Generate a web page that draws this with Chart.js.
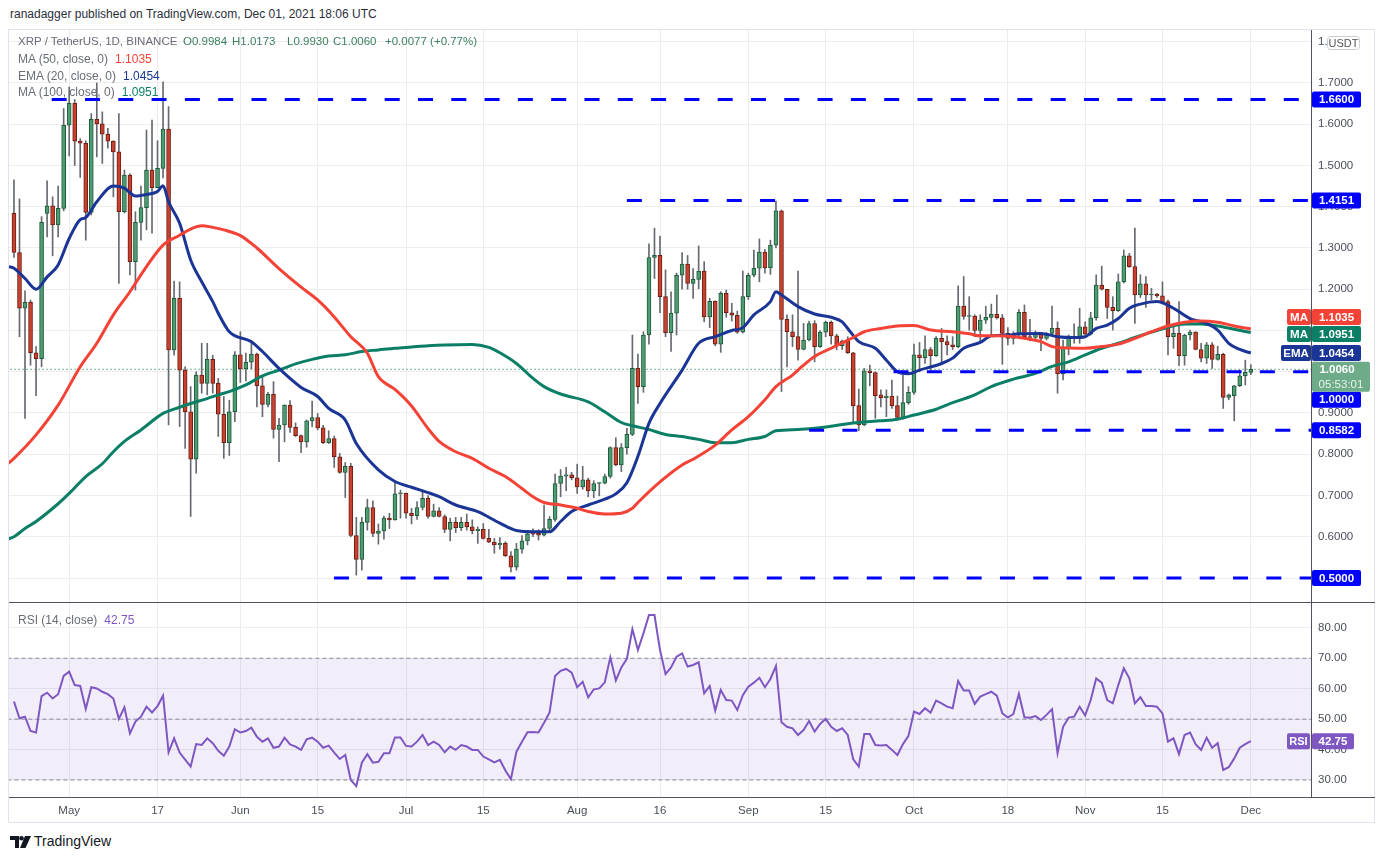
<!DOCTYPE html>
<html><head><meta charset="utf-8">
<script src="https://cdn.jsdelivr.net/npm/chart.js@4.4.1/dist/chart.umd.min.js"></script>
<style>
html,body{margin:0;padding:0;background:#fff;width:1385px;height:860px;overflow:hidden;font-family:"Liberation Sans",Arial,sans-serif;}
.abs{position:absolute;white-space:nowrap;}
.lg{font-size:12px;color:#6a6d78;}
.lg span{margin-left:7px;}
.ohlc{position:absolute;top:35px;font-size:11.5px;color:#3a7f5e;white-space:nowrap;}
</style></head><body>
<div class="abs" style="left:10px;top:7px;font-size:12px;color:#2a2e39">ranadagger published on TradingView.com, Dec 01, 2021 18:06 UTC</div>
<div class="abs" style="left:8px;top:29px;width:1367px;height:794px;border:1px solid #e0e3eb;box-sizing:border-box"></div>
<canvas id="price" class="abs" style="left:9px;top:30px" width="1366" height="572"></canvas>
<canvas id="rsi" class="abs" style="left:9px;top:604px" width="1366" height="219"></canvas>
<div class="abs" style="left:9px;top:602px;width:1366px;height:1px;background:#50535e"></div>
<div class="abs" style="left:9px;top:797px;width:1366px;height:1px;background:#50535e"></div>
<div class="abs" style="left:1311px;top:30px;width:1px;height:767px;background:#50535e"></div>

<div class="abs lg" style="left:18px;top:35px;font-size:11.5px">XRP / TetherUS, 1D, BINANCE</div>
<div class="ohlc" id="oO" style="left:183px"></div>
<div class="ohlc" id="oH" style="left:232px"></div>
<div class="ohlc" id="oL" style="left:287px"></div>
<div class="ohlc" id="oC" style="left:333px"></div>
<div class="ohlc" id="oChg" style="left:385px"></div>
<div class="abs lg" style="left:18px;top:52px">MA (50, close, 0)<span id="lg50" style="color:#f44336"></span></div>
<div class="abs lg" style="left:18px;top:69px">EMA (20, close, 0)<span id="lg20" style="color:#1a3596"></span></div>
<div class="abs lg" style="left:18px;top:85px">MA (100, close, 0)<span id="lg100" style="color:#0b7f66"></span></div>
<div class="abs lg" style="left:18px;top:613px">RSI (14, close)<span id="lgrsi" style="color:#7e57c2"></span></div>

<div class="abs" style="left:10px;top:835px;">
<svg width="22" height="14" viewBox="0 0 22 14"><path d="M0 1h9v12H5V5H0z" fill="#131722"/><circle cx="11.5" cy="3.2" r="2.3" fill="#131722"/><path d="M15 1h6l-5.5 12H10z" fill="#131722"/></svg>
</div>
<div class="abs" style="left:34px;top:833px;font-size:14px;color:#131722">TradingView</div>

<script>
// ---------- DATA ----------
const tickIdx    = [10, 26, 41, 55, 71, 85, 102, 117, 133, 147, 163, 180, 194, 208, 224];
const tickLabels = ['May','17','Jun','15','Jul','15','Aug','16','Sep','15','Oct','18','Nov','15','Dec'];

const open = [
1.384,1.289,1.154,1.168,1.046,1.032,1.384,1.402,1.356,1.396,
1.598,1.651,1.559,1.554,1.386,1.612,1.601,1.576,1.559,1.533,
1.388,1.477,1.267,1.362,1.398,1.489,1.446,1.493,1.588,1.053,
1.178,1.004,0.903,0.788,0.992,0.972,1.030,0.972,0.897,0.828,
0.903,1.041,1.007,1.023,1.043,0.966,0.921,0.945,0.860,0.871,
0.919,0.865,0.845,0.830,0.881,0.889,0.864,0.828,0.838,0.794,
0.756,0.771,0.603,0.545,0.635,0.671,0.608,0.614,0.645,0.641,
0.704,0.705,0.657,0.651,0.671,0.693,0.649,0.663,0.649,0.618,
0.635,0.622,0.635,0.624,0.615,0.618,0.596,0.587,0.580,0.584,
0.554,0.526,0.570,0.590,0.607,0.608,0.604,0.620,0.642,0.729,
0.747,0.750,0.743,0.721,0.738,0.711,0.729,0.730,0.746,0.816,
0.774,0.816,0.848,1.008,0.964,1.089,1.277,1.282,1.182,1.095,
1.142,1.234,1.261,1.214,1.224,1.244,1.133,1.171,1.067,1.190,
1.143,1.137,1.096,1.182,1.234,1.251,1.290,1.252,1.307,1.390,
1.127,1.097,1.085,1.054,1.077,1.117,1.061,1.096,1.120,1.087,
1.063,1.075,1.046,0.918,0.871,1.002,0.998,0.944,0.937,0.941,
0.918,0.889,0.925,0.950,1.041,1.034,1.054,1.039,1.081,1.073,
1.065,1.061,1.159,1.134,1.135,1.100,1.125,1.132,1.139,1.131,
1.093,1.081,1.089,1.144,1.085,1.083,1.091,1.081,1.093,1.105,
0.995,1.057,1.083,1.085,1.109,1.091,1.131,1.210,1.200,1.156,
1.148,1.218,1.281,1.255,1.186,1.213,1.186,1.188,1.184,1.170,
1.085,1.093,1.039,1.089,1.096,1.054,1.033,1.065,1.030,1.042,
0.938,0.942,0.966,0.990,0.9984];
const high = [
1.465,1.419,1.196,1.174,1.061,1.376,1.463,1.424,1.450,1.638,
1.690,1.660,1.565,1.560,1.626,1.700,1.630,1.590,1.560,1.626,
1.489,1.480,1.388,1.450,1.586,1.610,1.560,1.703,1.643,1.220,
1.218,1.012,0.964,1.000,1.069,1.069,1.040,0.984,0.940,0.931,
1.049,1.097,1.045,1.073,1.045,0.988,0.950,0.976,0.887,0.920,
0.930,0.876,0.847,0.883,0.929,0.899,0.870,0.857,0.844,0.802,
0.780,0.778,0.647,0.647,0.691,0.687,0.631,0.650,0.657,0.733,
0.713,0.706,0.669,0.685,0.709,0.700,0.679,0.671,0.653,0.645,
0.647,0.647,0.655,0.641,0.624,0.632,0.618,0.596,0.598,0.588,
0.564,0.584,0.603,0.615,0.619,0.617,0.677,0.649,0.752,0.763,
0.768,0.756,0.776,0.771,0.742,0.736,0.731,0.752,0.818,0.840,
0.826,0.863,1.089,1.043,1.097,1.310,1.348,1.329,1.247,1.194,
1.239,1.289,1.282,1.250,1.305,1.267,1.178,1.172,1.194,1.198,
1.166,1.147,1.244,1.239,1.295,1.322,1.297,1.319,1.414,1.392,
1.138,1.138,1.244,1.117,1.123,1.124,1.100,1.123,1.123,1.091,
1.077,1.085,1.047,0.958,1.008,1.016,1.000,0.956,0.956,0.980,
0.941,0.992,0.964,1.067,1.071,1.087,1.059,1.085,1.105,1.087,
1.085,1.208,1.231,1.182,1.138,1.138,1.159,1.164,1.186,1.139,
1.107,1.097,1.151,1.162,1.127,1.099,1.095,1.095,1.159,1.121,
1.077,1.089,1.116,1.154,1.121,1.144,1.235,1.256,1.200,1.182,
1.237,1.295,1.287,1.348,1.235,1.231,1.202,1.190,1.218,1.174,
1.108,1.170,1.091,1.101,1.097,1.069,1.071,1.071,1.062,1.045,
0.946,0.967,1.004,1.028,1.0173];
const low = [
1.277,1.085,0.887,1.016,0.942,1.012,1.327,1.281,1.327,1.390,
1.523,1.500,1.471,1.319,1.380,1.521,1.505,1.542,1.424,1.214,
1.385,1.235,1.198,1.319,1.344,1.336,1.469,1.470,0.871,1.040,
0.867,0.814,0.649,0.754,0.948,0.944,0.948,0.843,0.790,0.797,
0.879,0.974,0.978,1.007,0.915,0.891,0.915,0.839,0.782,0.830,
0.853,0.843,0.804,0.817,0.867,0.859,0.826,0.826,0.768,0.754,
0.695,0.600,0.507,0.519,0.616,0.600,0.582,0.594,0.620,0.640,
0.645,0.645,0.631,0.642,0.665,0.645,0.648,0.648,0.610,0.590,
0.610,0.615,0.616,0.607,0.584,0.594,0.586,0.560,0.570,0.552,
0.515,0.519,0.560,0.580,0.600,0.592,0.602,0.613,0.637,0.697,
0.712,0.738,0.705,0.715,0.697,0.695,0.699,0.728,0.742,0.772,
0.758,0.800,0.845,0.923,0.950,1.067,1.226,1.143,1.085,1.049,
1.089,1.200,1.200,1.178,1.201,1.121,1.107,1.063,1.047,1.132,
1.123,1.093,1.094,1.175,1.230,1.218,1.239,1.236,1.300,0.952,
1.012,1.061,1.028,1.053,1.075,1.024,1.059,1.085,1.067,1.053,
1.054,1.044,0.875,0.857,0.869,0.966,0.887,0.915,0.891,0.911,
0.887,0.885,0.921,0.945,1.000,1.020,1.004,1.037,1.018,1.041,
1.054,1.058,1.127,1.101,1.085,1.073,1.117,1.089,1.128,1.018,
1.065,1.067,1.085,1.082,1.075,1.077,1.051,1.077,1.089,0.948,
0.980,1.041,1.069,1.069,1.089,1.089,1.125,1.198,1.129,1.101,
1.146,1.215,1.253,1.117,1.180,1.156,1.174,1.180,1.166,1.041,
1.057,1.015,1.016,1.077,1.053,1.024,1.020,1.008,1.028,0.911,
0.932,0.881,0.964,0.968,0.9930];
const close = [
1.289,1.154,1.168,1.046,1.032,1.362,1.402,1.356,1.396,1.598,
1.651,1.559,1.554,1.386,1.612,1.601,1.576,1.559,1.533,1.388,
1.477,1.267,1.362,1.398,1.489,1.446,1.493,1.588,1.053,1.178,
1.004,0.903,0.788,0.992,0.972,1.030,0.972,0.897,0.828,0.903,
1.041,1.007,1.023,1.043,0.966,0.921,0.945,0.860,0.871,0.919,
0.865,0.845,0.830,0.881,0.889,0.864,0.828,0.838,0.794,0.756,
0.771,0.603,0.545,0.635,0.671,0.608,0.614,0.645,0.641,0.704,
0.705,0.657,0.651,0.671,0.693,0.649,0.663,0.649,0.618,0.635,
0.622,0.635,0.624,0.615,0.618,0.596,0.587,0.580,0.584,0.554,
0.526,0.570,0.590,0.607,0.606,0.604,0.620,0.642,0.729,0.747,
0.750,0.743,0.721,0.738,0.711,0.729,0.730,0.746,0.816,0.774,
0.816,0.848,1.008,0.964,1.089,1.277,1.282,1.182,1.095,1.142,
1.234,1.261,1.214,1.224,1.244,1.133,1.171,1.067,1.190,1.143,
1.137,1.096,1.182,1.234,1.251,1.290,1.252,1.307,1.390,1.127,
1.097,1.085,1.054,1.077,1.117,1.061,1.096,1.120,1.087,1.063,
1.074,1.046,0.918,0.871,1.002,0.998,0.942,0.937,0.941,0.918,
0.889,0.925,0.950,1.041,1.034,1.054,1.039,1.081,1.073,1.065,
1.061,1.159,1.134,1.135,1.100,1.125,1.132,1.139,1.131,1.093,
1.081,1.089,1.144,1.085,1.083,1.091,1.081,1.093,1.105,0.995,
1.057,1.083,1.085,1.109,1.091,1.131,1.210,1.200,1.156,1.148,
1.218,1.281,1.255,1.186,1.213,1.186,1.188,1.184,1.170,1.085,
1.093,1.039,1.089,1.096,1.054,1.033,1.065,1.030,1.042,0.938,
0.944,0.966,0.990,0.9984,1.0060];

const rsi = [
55.8,50.3,50.8,46.1,45.6,57.6,58.7,56.8,58.2,64.2,
65.6,61.2,60.9,53.3,60.5,60.1,59.0,58.2,56.8,50.1,
53.9,45.3,49.2,50.8,54.1,52.2,54.3,57.7,39.1,43.7,
39.0,36.7,34.4,41.8,41.5,43.7,42.1,39.6,38.0,41.0,
46.7,45.6,46.1,47.2,44.2,42.6,43.7,40.6,41.0,43.9,
41.7,41.0,39.9,43.4,43.9,42.6,40.6,41.3,39.0,36.9,
38.2,30.0,28.0,35.7,38.5,35.7,36.0,38.8,38.8,44.0,
44.0,41.2,41.0,42.6,44.8,41.5,42.6,41.5,39.1,41.0,
39.9,41.5,41.0,39.9,39.9,37.7,36.8,35.8,36.6,33.1,
30.3,39.3,42.6,45.7,45.8,45.6,48.8,52.2,64.2,65.9,
66.5,65.3,60.5,62.3,57.2,59.8,60.1,62.1,70.3,62.7,
67.0,69.8,79.6,72.7,78.2,84.2,84.2,72.7,64.8,67.0,
70.5,71.6,67.3,67.8,68.7,58.5,60.9,52.8,59.6,56.3,
56.1,53.0,57.9,60.7,62.0,63.6,60.5,63.2,67.5,49.0,
47.5,47.0,44.8,46.4,49.4,45.9,48.4,50.1,47.5,46.1,
47.0,44.8,36.8,34.4,45.1,45.1,41.5,41.3,41.5,39.9,
38.2,41.8,44.5,52.5,51.7,53.6,52.1,56.1,55.2,54.1,
53.6,62.5,59.4,59.4,55.0,57.4,58.2,59.0,57.7,51.9,
50.5,51.7,58.3,50.6,50.5,51.0,49.7,51.4,53.3,38.8,
47.5,50.5,50.8,54.1,51.2,56.3,63.4,62.0,56.3,55.2,
61.2,66.7,63.4,55.2,57.2,54.3,54.3,54.1,51.9,42.6,
43.7,38.5,44.8,45.6,41.8,39.9,43.9,40.6,42.1,33.3,
34.2,37.1,40.6,41.8,42.75];

// moving averages at [day index, value]
const ema20 = [[-1,1.255],[0,1.251],[2,1.226],[4,1.200],[6,1.230],[8,1.259],[10,1.323],[12,1.369],[13,1.374],[15,1.412],[18,1.450],[20,1.445],[22,1.426],[24,1.430],[26,1.437],[27,1.451],[28,1.412],[30,1.360],[32,1.271],[34,1.218],[36,1.170],[37,1.142],[39,1.097],[43,1.073],[45,1.049],[48,1.008],[52,0.962],[55,0.940],[57,0.911],[60,0.883],[62,0.826],[66,0.762],[69,0.734],[72,0.720],[75,0.707],[77,0.697],[80,0.677],[84,0.661],[88,0.633],[91,0.615],[94,0.612],[97,0.612],[99,0.637],[101,0.661],[104,0.677],[107,0.691],[109,0.704],[111,0.731],[113,0.795],[115,0.875],[117,0.923],[121,1.004],[124,1.069],[127,1.085],[130,1.100],[132,1.107],[134,1.138],[137,1.170],[138,1.194],[139,1.186],[142,1.158],[145,1.140],[148,1.132],[150,1.121],[151,1.105],[153,1.073],[156,1.057],[158,1.028],[160,1.000],[162,0.995],[164,1.004],[168,1.020],[170,1.033],[172,1.057],[175,1.071],[177,1.087],[180,1.089],[182,1.092],[186,1.093],[189,1.085],[192,1.083],[194,1.085],[196,1.105],[198,1.113],[200,1.129],[202,1.154],[204,1.164],[207,1.170],[208,1.167],[210,1.154],[213,1.129],[216,1.117],[218,1.101],[220,1.069],[222,1.054],[224,1.0454]];
const ma50 = [[-1,0.778],[0,0.790],[4,0.847],[8,0.919],[12,1.012],[15,1.069],[18,1.138],[21,1.194],[24,1.255],[27,1.307],[30,1.331],[32,1.346],[34,1.354],[36,1.350],[38,1.344],[41,1.330],[44,1.300],[48,1.250],[52,1.205],[55,1.174],[58,1.133],[61,1.085],[64,1.045],[66,0.988],[69,0.957],[72,0.917],[75,0.862],[77,0.831],[80,0.806],[83,0.790],[86,0.766],[89,0.746],[92,0.717],[94,0.697],[96,0.683],[99,0.677],[102,0.669],[104,0.661],[107,0.655],[110,0.657],[112,0.669],[113,0.683],[117,0.733],[121,0.774],[123,0.788],[127,0.822],[130,0.859],[133,0.891],[136,0.932],[138,0.964],[141,0.992],[143,1.016],[145,1.037],[148,1.057],[150,1.070],[152,1.083],[154,1.097],[157,1.105],[160,1.111],[163,1.112],[166,1.101],[170,1.097],[173,1.092],[175,1.087],[178,1.087],[181,1.085],[183,1.081],[186,1.073],[188,1.061],[190,1.058],[194,1.057],[197,1.061],[200,1.067],[203,1.081],[206,1.097],[209,1.111],[212,1.120],[215,1.123],[218,1.120],[221,1.111],[224,1.1035]];
const ma100 = [[-1,0.595],[0,0.600],[2,0.620],[4,0.637],[8,0.680],[10,0.705],[13,0.746],[16,0.777],[18,0.806],[20,0.831],[23,0.859],[27,0.899],[30,0.914],[32,0.923],[35,0.935],[37,0.944],[39,0.952],[42,0.968],[45,0.990],[48,1.004],[51,1.019],[54,1.030],[57,1.038],[60,1.041],[63,1.049],[66,1.053],[69,1.057],[72,1.060],[75,1.063],[78,1.065],[83,1.066],[86,1.059],[88,1.046],[91,1.020],[94,0.984],[96,0.964],[99,0.946],[104,0.927],[107,0.903],[110,0.877],[112,0.869],[115,0.860],[118,0.848],[121,0.843],[124,0.836],[127,0.828],[130,0.828],[133,0.836],[136,0.843],[138,0.857],[142,0.860],[145,0.863],[148,0.868],[151,0.874],[153,0.877],[157,0.881],[160,0.885],[163,0.895],[167,0.909],[170,0.925],[174,0.944],[177,0.964],[181,0.982],[185,0.996],[188,1.013],[191,1.024],[194,1.041],[197,1.057],[200,1.069],[203,1.083],[206,1.096],[209,1.108],[212,1.116],[215,1.116],[218,1.111],[221,1.103],[224,1.0951]];

const levelValues = [1.66, 1.4151, 1.0, 0.8582, 0.5];
const levelStart  = [6.83, 111.0, 159.3, 144.0, 57.95];
const priceTicks  = [0.5,0.6,0.7,0.8,0.9,1.0,1.1,1.2,1.3,1.4,1.5,1.6,1.7,1.8];
const rsiTicks    = [30,40,50,60,70,80];
const rsiBands    = [70,50,30];
const changeAbs   = 0.0077;   // as shown in the header
const changePct   = 0.77;
const countdown   = '05:53:01';

// ---------- helpers ----------
const last = close.length - 1;
const fmt = v => v.toFixed(4);
document.getElementById('oO').textContent = 'O' + fmt(open[last]);
document.getElementById('oH').textContent = 'H' + fmt(high[last]);
document.getElementById('oL').textContent = 'L' + fmt(low[last]);
document.getElementById('oC').textContent = 'C' + fmt(close[last]);
document.getElementById('oChg').textContent = '+' + changeAbs.toFixed(4) + ' (+' + changePct.toFixed(2) + '%)';
document.getElementById('lg50').textContent = fmt(ma50[ma50.length-1][1]);
document.getElementById('lg20').textContent = fmt(ema20[ema20.length-1][1]);
document.getElementById('lg100').textContent = fmt(ma100[ma100.length-1][1]);
document.getElementById('lgrsi').textContent = rsi[last].toFixed(2);

const FONT = '"Liberation Sans", Arial, sans-serif';
const X_MIN = -0.9, X_MAX = 234.9;
const C_UP = '#4f9c72', C_UPB = '#1d5a3b', C_DN = '#c8412f', C_DNB = '#6e1d13', C_WICK = '#666a70';
const C_MA50 = '#f44336', C_EMA = '#1a3596', C_MA100 = '#0b7f66', C_LVL = '#0000ff';

function rr(ctx, x, y, w, h, r) {
  ctx.beginPath();
  ctx.moveTo(x + r, y); ctx.lineTo(x + w - r, y); ctx.quadraticCurveTo(x + w, y, x + w, y + r);
  ctx.lineTo(x + w, y + h - r); ctx.quadraticCurveTo(x + w, y + h, x + w - r, y + h);
  ctx.lineTo(x + r, y + h); ctx.quadraticCurveTo(x, y + h, x, y + h - r);
  ctx.lineTo(x, y + r); ctx.quadraticCurveTo(x, y, x + r, y); ctx.closePath();
}
function tag(ctx, x, yc, w, h, bg, txt, col, font) {
  ctx.fillStyle = bg; rr(ctx, x, yc - h/2, w, h, 2); ctx.fill();
  ctx.fillStyle = col; ctx.font = font; ctx.textAlign = 'center'; ctx.textBaseline = 'middle';
  ctx.fillText(txt, x + w/2, yc + 0.5);
}

const xAxisBase = {
  type: 'linear', min: X_MIN, max: X_MAX, offset: false,
  afterBuildTicks: a => { a.ticks = tickIdx.map(v => ({ value: v })); },
  grid: { color: '#ededed', drawTicks: false, offset: false },
  border: { display: false }
};

// ---------- PRICE CHART ----------
const ids = close.map((_, i) => i);
const priceBoxes = {
  id: 'priceBoxes',
  afterDraw(chart) {
    const { ctx, chartArea: ca, scales: { y } } = chart;
    const R = ca.right;
    const bf = 'bold 11.5px ' + FONT;
    ctx.save();
    ctx.fillStyle = '#fff'; rr(ctx, R + 16, 6, 33, 14, 3); ctx.fill();
    ctx.strokeStyle = '#c9ccd3'; ctx.lineWidth = 1; rr(ctx, R + 16.5, 6.5, 32, 13, 3); ctx.stroke();
    ctx.fillStyle = '#555'; ctx.font = '11px ' + FONT; ctx.textAlign = 'center'; ctx.textBaseline = 'middle';
    ctx.fillText('USDT', R + 32.5, 13.5);
    const lvlOff = [0, 0, 28, 0, 0];
    levelValues.forEach((v, k) => tag(ctx, R + 1, y.getPixelForValue(v) + lvlOff[k], 49, 16, C_LVL, v.toFixed(4), '#fff', bf));
    const m50 = ma50[ma50.length-1][1], m100 = ma100[ma100.length-1][1], e20 = ema20[ema20.length-1][1];
    const y50 = y.getPixelForValue(m50) - 12, y100 = y.getPixelForValue(m100) + 1.5, y20 = y.getPixelForValue(e20);
    tag(ctx, R + 1, y50, 49, 16, C_MA50, fmt(m50), '#fff', bf);
    tag(ctx, R - 24, y50, 24, 16, C_MA50, 'MA', '#fff', bf);
    tag(ctx, R + 1, y100, 49, 16, C_MA100, fmt(m100), '#fff', bf);
    tag(ctx, R - 24, y100, 24, 16, C_MA100, 'MA', '#fff', bf);
    tag(ctx, R + 1, y20, 49, 16, C_EMA, fmt(e20), '#fff', bf);
    tag(ctx, R - 30, y20, 30, 16, C_EMA, 'EMA', '#fff', bf);
    const yp = y.getPixelForValue(close[last]);
    ctx.fillStyle = '#6eab88'; rr(ctx, R + 1, yp - 7.6, 58, 30, 2); ctx.fill();
    ctx.fillStyle = '#fff'; ctx.font = bf; ctx.textAlign = 'center'; ctx.textBaseline = 'middle';
    ctx.fillText(fmt(close[last]), R + 26, yp + 0.5);
    ctx.fillStyle = '#e8f3ec'; ctx.font = '11.5px ' + FONT;
    ctx.fillText(countdown, R + 30, yp + 15.5);
    ctx.restore();
  }
};

const priceDatasets = [];
levelValues.forEach((v, k) => priceDatasets.push({
  type: 'line', order: 0, data: [{ x: levelStart[k], y: v }, { x: 240, y: v }],
  borderColor: C_LVL, borderWidth: 3, borderDash: [15, 18.3], pointRadius: 0, borderCapStyle: 'butt'
}));
[[ma50, C_MA50], [ema20, C_EMA], [ma100, C_MA100]].forEach(([arr, col]) => priceDatasets.push({
  type: 'line', order: 1, data: arr.map(([x, y]) => ({ x, y })),
  borderColor: col, borderWidth: 3, pointRadius: 0, cubicInterpolationMode: 'monotone'
}));
priceDatasets.push({
  type: 'bar', order: 2, grouped: false, barThickness: 4, minBarLength: 1,
  data: ids.map(i => ({ x: i, y: [open[i], close[i]] })),
  backgroundColor: ids.map(i => close[i] >= open[i] ? C_UP : C_DN),
  borderColor: ids.map(i => close[i] >= open[i] ? C_UPB : C_DNB),
  borderWidth: 1, borderSkipped: false
});
priceDatasets.push({
  type: 'bar', order: 3, grouped: false, barThickness: 1,
  data: ids.map(i => ({ x: i, y: [low[i], high[i]] })),
  backgroundColor: C_WICK, borderWidth: 0
});
priceDatasets.push({
  type: 'line', order: 4, data: [{ x: -5, y: close[last] }, { x: 240, y: close[last] }],
  borderColor: '#4f9d75', borderWidth: 1, borderDash: [1.5, 2.5], pointRadius: 0
});

new Chart(document.getElementById('price'), {
  type: 'bar',
  data: { datasets: priceDatasets },
  options: {
    responsive: false, animation: false, events: [],
    layout: { padding: 0 },
    plugins: { legend: { display: false }, tooltip: { enabled: false } },
    scales: {
      x: Object.assign({}, xAxisBase, {
        ticks: { display: false },
        afterFit: s => { s.height = 0; s.paddingLeft = 0; s.paddingRight = 0; }
      }),
      y: {
        type: 'linear', position: 'right', min: 0.44182, max: 1.82848, beginAtZero: false,
        afterBuildTicks: a => { a.ticks = priceTicks.map(v => ({ value: v })); },
        ticks: { callback: v => Number(v).toFixed(4), color: '#4a4e59', font: { family: FONT, size: 11.5 }, padding: 7 },
        grid: { color: '#ededed', drawTicks: false },
        border: { display: false },
        afterFit: s => { s.width = 64; s.paddingTop = 0; s.paddingBottom = 0; }
      }
    }
  },
  plugins: [priceBoxes]
});

// ---------- RSI CHART ----------
const rsiBoxes = {
  id: 'rsiBoxes',
  afterDraw(chart) {
    const { ctx, chartArea: ca, scales: { y } } = chart;
    const R = ca.right, yc = y.getPixelForValue(rsi[last]);
    ctx.save();
    tag(ctx, R - 24, yc, 23, 16, '#7e57c2', 'RSI', '#fff', 'bold 11px ' + FONT);
    tag(ctx, R + 1, yc, 42, 16, '#7e57c2', rsi[last].toFixed(2), '#fff', 'bold 11.5px ' + FONT);
    ctx.restore();
  }
};
const rsiDatasets = [{
  type: 'line', order: 0, data: rsi.map((v, i) => ({ x: i, y: v })),
  borderColor: '#7e57c2', borderWidth: 2, pointRadius: 0, tension: 0
}];
rsiBands.forEach((b, k) => rsiDatasets.push({
  type: 'line', order: 1, data: [{ x: -5, y: b }, { x: 240, y: b }],
  borderColor: '#8a8d96', borderWidth: 1, borderDash: [4, 3], pointRadius: 0,
  fill: k === 0 ? { value: rsiBands[rsiBands.length - 1] } : false,
  backgroundColor: 'rgba(126,87,194,0.1)'
}));

new Chart(document.getElementById('rsi'), {
  type: 'line',
  data: { datasets: rsiDatasets },
  options: {
    responsive: false, animation: false, events: [],
    layout: { padding: 0 },
    plugins: { legend: { display: false }, tooltip: { enabled: false } },
    scales: {
      x: Object.assign({}, xAxisBase, {
        ticks: {
          autoSkip: false, maxRotation: 0, padding: 7, color: '#4a4e59', font: { family: FONT, size: 11.5 },
          callback: v => { const k = tickIdx.indexOf(Number(v)); return k >= 0 ? tickLabels[k] : ''; }
        },
        afterFit: s => { s.height = 26; s.paddingLeft = 0; s.paddingRight = 0; }
      }),
      y: {
        type: 'linear', position: 'right', min: 24.41, max: 87.85,
        afterBuildTicks: a => { a.ticks = rsiTicks.map(v => ({ value: v })); },
        ticks: { callback: v => Number(v).toFixed(2), color: '#4a4e59', font: { family: FONT, size: 11.5 }, padding: 7 },
        grid: { color: '#ededed', drawTicks: false },
        border: { display: false },
        afterFit: s => { s.width = 64; s.paddingTop = 0; s.paddingBottom = 0; }
      }
    }
  },
  plugins: [rsiBoxes]
});
</script>
</body></html>
